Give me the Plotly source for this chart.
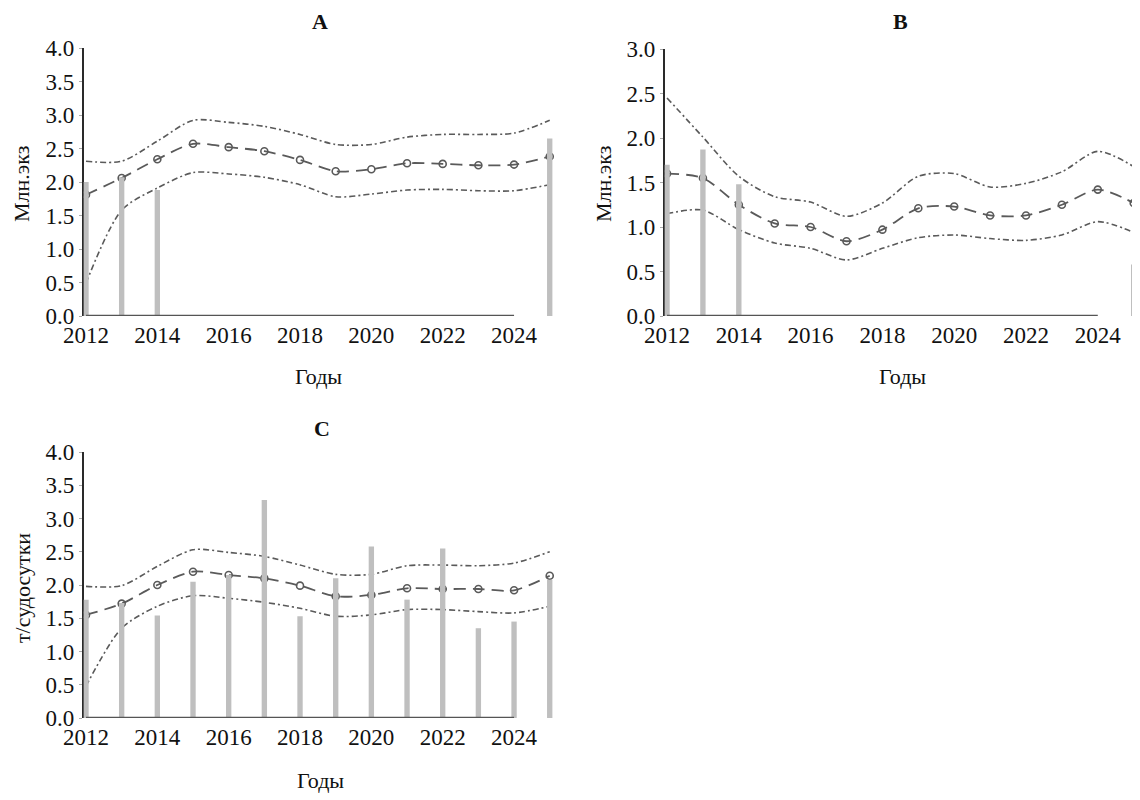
import plotly.graph_objects as go

years = list(range(2012, 2026))
tick_years = list(range(2012, 2025, 2))

# Panel A (Млн.экз)
a_bars = [2.0, 2.07, 1.88, None, None, None, None, None, None, None, None, None, None, 2.65]
a_upper = [2.31, 2.31, 2.61, 2.92, 2.89, 2.83, 2.71, 2.56, 2.56, 2.67, 2.71, 2.71, 2.73, 2.92]
a_mid = [1.81, 2.06, 2.34, 2.57, 2.52, 2.46, 2.33, 2.16, 2.19, 2.28, 2.27, 2.25, 2.26, 2.38]
a_lower = [0.49, 1.58, 1.91, 2.14, 2.12, 2.07, 1.96, 1.78, 1.82, 1.88, 1.89, 1.87, 1.87, 1.96]

# Panel B (Млн.экз)
b_bars = [1.70, 1.87, 1.48, None, None, None, None, None, None, None, None, None, None, 0.58]
b_upper = [2.45, 2.01, 1.57, 1.34, 1.28, 1.12, 1.27, 1.57, 1.60, 1.45, 1.49, 1.62, 1.85, 1.68]
b_mid = [1.60, 1.55, 1.25, 1.04, 1.00, 0.84, 0.97, 1.21, 1.23, 1.13, 1.13, 1.25, 1.42, 1.27]
b_lower = [1.15, 1.19, 0.97, 0.82, 0.76, 0.63, 0.76, 0.88, 0.91, 0.87, 0.85, 0.91, 1.06, 0.94]

# Panel C (т/судосутки)
c_bars = [1.78, 1.73, 1.54, 2.05, 2.15, 3.28, 1.53, 2.10, 2.58, 1.78, 2.55, 1.35, 1.45, 2.08]
c_upper = [1.98, 1.99, 2.28, 2.53, 2.49, 2.43, 2.30, 2.16, 2.16, 2.29, 2.30, 2.29, 2.33, 2.50]
c_mid = [1.55, 1.72, 2.00, 2.20, 2.15, 2.10, 1.99, 1.83, 1.85, 1.95, 1.94, 1.94, 1.92, 2.14]
c_lower = [0.48, 1.35, 1.68, 1.84, 1.80, 1.74, 1.65, 1.53, 1.55, 1.63, 1.63, 1.60, 1.58, 1.68]

# pixel layout (page coordinates); the page adds an 8px body margin
OFF = 8
panels = [
    dict(name="A", bars=a_bars, up=a_upper, mid=a_mid, lo=a_lower, ymax=4.0,
         ytitle="Млн.экз", xdom=(83.5, 554), ydom=(48, 316),
         title_xy=(320, 22), xt_xy=(318, 377), yt_xy=(22, 184)),
    dict(name="B", bars=b_bars, up=b_upper, mid=b_mid, lo=b_lower, ymax=3.0,
         ytitle="Млн.экз", xdom=(664.5, 1138), ydom=(49, 316),
         title_xy=(900, 22), xt_xy=(902, 377), yt_xy=(604, 184)),
    dict(name="C", bars=c_bars, up=c_upper, mid=c_mid, lo=c_lower, ymax=4.0,
         ytitle="т/судосутки", xdom=(83.5, 554), ydom=(452, 718),
         title_xy=(322, 428), xt_xy=(320, 780), yt_xy=(22, 588)),
]

W, H = 1140, 800
SERIF = "Liberation Serif"
LINE_COL = "#5a5a5a"
BAR_COL = "#bfbfbf"
TXT = "#111111"


def px(x):
    return (x - OFF) / W


def py(y):
    return 1 - (y - OFF) / H


fig = go.Figure()
layout = dict(
    template="none",
    width=W, height=H, margin=dict(l=0, r=0, t=0, b=0, pad=0, autoexpand=False),
    paper_bgcolor="white", plot_bgcolor="rgba(0,0,0,0)",
    showlegend=False, font=dict(family=SERIF, color=TXT, size=22),
    shapes=[], annotations=[],
)

for i, p in enumerate(panels):
    n = i + 1
    xa = "x" if n == 1 else f"x{n}"
    ya = "y" if n == 1 else f"y{n}"
    ov = f"y{n + 3}"
    xkey = "xaxis" if n == 1 else f"xaxis{n}"
    ykey = "yaxis" if n == 1 else f"yaxis{n}"
    ovkey = f"yaxis{n + 3}"
    xd = (px(p["xdom"][0]), min(px(p["xdom"][1]), 1.0))
    yd = (py(p["ydom"][1]), py(p["ydom"][0]))
    xr = [2011.93, 2025.12]
    yr = [0, p["ymax"]]

    layout[xkey] = dict(domain=xd, range=xr, anchor=ya, tickvals=tick_years,
                        ticktext=[str(v) for v in tick_years], showgrid=False,
                        zeroline=False, showline=False, ticks="", automargin=False,
                        ticklabelstandoff=3,
                        tickfont=dict(family=SERIF, size=23, color=TXT))
    yvals = [k * 0.5 for k in range(int(p["ymax"] / 0.5) + 1)]
    layout[ykey] = dict(domain=yd, range=yr, anchor=xa, tickvals=yvals,
                        ticktext=[f"{v:.1f}" for v in yvals], showgrid=False,
                        zeroline=False, showline=True, linecolor="#2a2a2a",
                        linewidth=1.5, ticks="outside", ticklen=3, automargin=False,
                        tickcolor="#aaaaaa", layer="below traces",
                        tickfont=dict(family=SERIF, size=23, color=TXT))
    layout[ovkey] = dict(overlaying=ya, range=yr, anchor=xa, visible=False,
                         showgrid=False, zeroline=False, automargin=False)

    # bounds and forecast lines (drawn beneath the bars)
    for series in (p["up"], p["lo"]):
        fig.add_trace(go.Scatter(x=years, y=series, mode="lines", xaxis=xa, yaxis=ya,
                                 line=dict(color=LINE_COL, width=1.6, dash="6px,3px,2px,3px",
                                           shape="spline", smoothing=0.8)))
    fig.add_trace(go.Scatter(x=years, y=p["mid"], mode="lines+markers", xaxis=xa, yaxis=ya,
                             line=dict(color=LINE_COL, width=1.8, dash="12px,7px",
                                       shape="spline", smoothing=0.8),
                             marker=dict(symbol="circle-open", size=7,
                                         color=LINE_COL, line=dict(width=1.6, color=LINE_COL))))
    # observed bars (on overlay so they sit above lines)
    fig.add_trace(go.Bar(x=years, y=p["bars"], xaxis=xa, yaxis=ov, width=0.15,
                         marker=dict(color=BAR_COL, line=dict(width=0))))

    # x-axis base line from first to last labelled year
    layout["shapes"].append(dict(type="line", xref=xa, yref=ya,
                                 x0=years[0], x1=tick_years[-1], y0=0, y1=0,
                                 line=dict(color="#555555", width=2.5), layer="above"))

    tx, ty = p["title_xy"]
    layout["annotations"].append(dict(text=f"<b>{p['name']}</b>", x=px(tx), y=py(ty),
                                      xref="paper", yref="paper", showarrow=False,
                                      xanchor="center", yanchor="middle",
                                      font=dict(family=SERIF, size=22, color="#111111")))
    gx, gy = p["xt_xy"]
    layout["annotations"].append(dict(text="Годы", x=px(gx), y=py(gy),
                                      xref="paper", yref="paper", showarrow=False,
                                      xanchor="center", yanchor="middle",
                                      font=dict(family=SERIF, size=22, color=TXT)))
    vx, vy = p["yt_xy"]
    layout["annotations"].append(dict(text=p["ytitle"], x=px(vx), y=py(vy),
                                      xref="paper", yref="paper", showarrow=False,
                                      textangle=-90, xanchor="center", yanchor="middle",
                                      font=dict(family=SERIF, size=22, color=TXT)))

fig.update_layout(**layout)
fig.write_html("out.html")
